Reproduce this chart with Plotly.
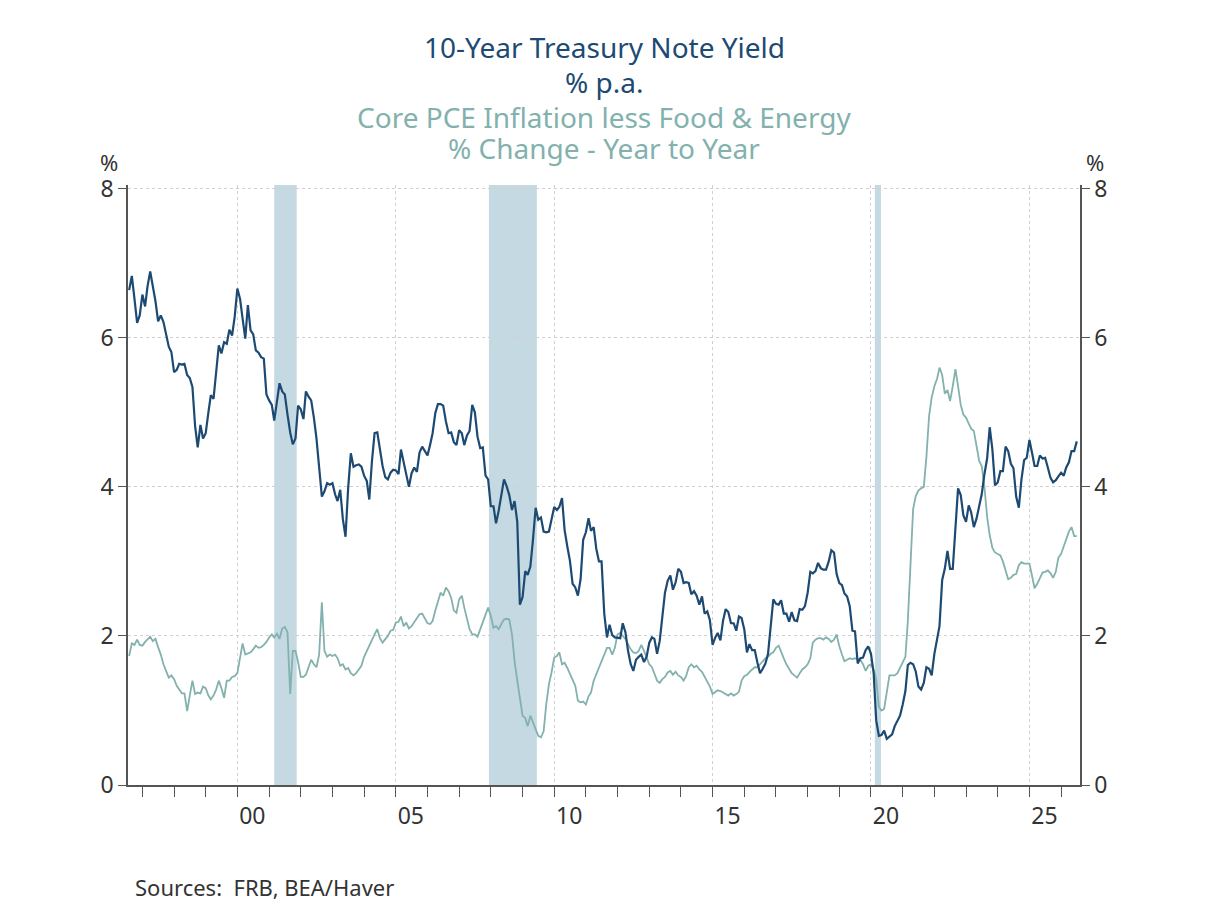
"""10-Year Treasury yield vs core PCE inflation, Plotly."""

import pandas as pd
import plotly.graph_objects as go

# monthly observations, first point = Aug 1996
start_month = "1996-08-01"

yield_10y = [
    # 1996 (Aug-Dec)
    6.64, 6.83, 6.53, 6.20, 6.30,
    # 1997
    6.58, 6.42, 6.69, 6.89, 6.71, 6.49, 6.22, 6.30, 6.21, 6.03, 5.88, 5.81,
    # 1998
    5.54, 5.57, 5.65, 5.64, 5.65, 5.50, 5.46, 5.34, 4.81, 4.53, 4.83, 4.65,
    # 1999
    4.72, 5.00, 5.23, 5.18, 5.54, 5.90, 5.79, 5.94, 5.92, 6.11, 6.03, 6.28,
    # 2000
    6.66, 6.52, 6.26, 5.99, 6.44, 6.10, 6.05, 5.83, 5.80, 5.74, 5.72, 5.24,
    # 2001
    5.16, 5.10, 4.89, 5.14, 5.39, 5.28, 5.24, 4.97, 4.73, 4.57, 4.65, 5.09,
    # 2002
    5.04, 4.91, 5.28, 5.21, 5.16, 4.93, 4.65, 4.26, 3.87, 3.94, 4.05, 4.03,
    # 2003
    4.05, 3.90, 3.81, 3.96, 3.57, 3.33, 3.98, 4.45, 4.27, 4.29, 4.30, 4.27,
    # 2004
    4.15, 4.08, 3.83, 4.35, 4.72, 4.73, 4.50, 4.28, 4.13, 4.10, 4.19, 4.23,
    # 2005
    4.22, 4.17, 4.50, 4.34, 4.14, 4.00, 4.18, 4.26, 4.20, 4.46, 4.54, 4.47,
    # 2006
    4.42, 4.57, 4.72, 4.99, 5.11, 5.11, 5.09, 4.88, 4.72, 4.73, 4.60, 4.56,
    # 2007
    4.76, 4.72, 4.56, 4.69, 4.75, 5.10, 5.00, 4.67, 4.52, 4.53, 4.15, 4.10,
    # 2008
    3.74, 3.74, 3.51, 3.68, 3.88, 4.10, 4.01, 3.89, 3.69, 3.81, 3.53, 2.42,
    # 2009
    2.52, 2.87, 2.82, 2.93, 3.29, 3.72, 3.56, 3.59, 3.40, 3.39, 3.40, 3.59,
    # 2010
    3.73, 3.69, 3.73, 3.85, 3.42, 3.20, 3.01, 2.70, 2.65, 2.54, 2.76, 3.29,
    # 2011
    3.39, 3.58, 3.41, 3.46, 3.17, 3.00, 3.00, 2.30, 1.98, 2.15, 2.01, 1.98,
    # 2012
    1.97, 1.97, 2.17, 2.05, 1.80, 1.62, 1.53, 1.68, 1.72, 1.75, 1.65, 1.72,
    # 2013
    1.91, 1.98, 1.96, 1.76, 1.93, 2.30, 2.58, 2.74, 2.81, 2.62, 2.72, 2.90,
    # 2014
    2.86, 2.71, 2.72, 2.71, 2.56, 2.60, 2.54, 2.42, 2.53, 2.30, 2.33, 2.21,
    # 2015
    1.88, 1.98, 2.04, 1.94, 2.20, 2.36, 2.32, 2.17, 2.17, 2.07, 2.26, 2.24,
    # 2016
    2.09, 1.78, 1.89, 1.81, 1.81, 1.64, 1.50, 1.56, 1.63, 1.76, 2.14, 2.49,
    # 2017
    2.43, 2.42, 2.48, 2.30, 2.30, 2.19, 2.32, 2.21, 2.20, 2.36, 2.35, 2.40,
    # 2018
    2.58, 2.86, 2.84, 2.87, 2.98, 2.91, 2.89, 2.89, 3.00, 3.15, 3.12, 2.83,
    # 2019
    2.71, 2.68, 2.57, 2.53, 2.40, 2.07, 2.06, 1.63, 1.70, 1.71, 1.81, 1.86,
    # 2020
    1.76, 1.50, 0.87, 0.66, 0.67, 0.73, 0.62, 0.65, 0.68, 0.79, 0.87, 0.93,
    # 2021
    1.08, 1.26, 1.61, 1.64, 1.62, 1.52, 1.32, 1.28, 1.37, 1.58, 1.56, 1.47,
    # 2022
    1.76, 1.93, 2.13, 2.75, 2.90, 3.14, 2.90, 2.90, 3.52, 3.98, 3.89, 3.62,
    # 2023
    3.53, 3.75, 3.66, 3.46, 3.57, 3.75, 3.90, 4.17, 4.38, 4.80, 4.50, 4.02,
    # 2024
    4.06, 4.21, 4.21, 4.54, 4.48, 4.31, 4.25, 3.87, 3.72, 4.10, 4.36, 4.39,
    # 2025
    4.63, 4.45, 4.28, 4.28, 4.42, 4.38, 4.39, 4.26, 4.12, 4.06, 4.09, 4.14,
    # 2026
    4.19, 4.15, 4.26, 4.33, 4.48, 4.48, 4.61,
]

core_pce = [
    # 1996 (Aug-Dec)
    1.73, 1.90, 1.88, 1.95, 1.88,
    # 1997
    1.87, 1.92, 1.95, 1.99, 1.93, 1.96, 1.85, 1.75, 1.62, 1.52, 1.44, 1.47,
    # 1998
    1.42, 1.33, 1.28, 1.23, 1.23, 0.99, 1.20, 1.40, 1.22, 1.24, 1.23, 1.32,
    # 1999
    1.30, 1.20, 1.15, 1.20, 1.28, 1.40, 1.30, 1.17, 1.40, 1.40, 1.45, 1.46,
    # 2000
    1.50, 1.70, 1.90, 1.75, 1.76, 1.78, 1.82, 1.87, 1.84, 1.85, 1.88, 1.92,
    # 2001
    1.98, 2.02, 1.98, 2.03, 1.96, 2.10, 2.12, 2.05, 1.22, 1.80, 1.80, 1.65,
    # 2002
    1.45, 1.45, 1.48, 1.58, 1.68, 1.62, 1.58, 1.75, 2.45, 1.80, 1.72, 1.75,
    # 2003
    1.73, 1.75, 1.70, 1.60, 1.62, 1.55, 1.57, 1.50, 1.47, 1.50, 1.55, 1.60,
    # 2004
    1.72, 1.80, 1.86, 1.96, 2.02, 2.09, 1.97, 1.91, 1.95, 2.00, 2.07, 2.08,
    # 2005
    2.18, 2.19, 2.26, 2.13, 2.18, 2.10, 2.13, 2.18, 2.24, 2.29, 2.30, 2.24,
    # 2006
    2.17, 2.16, 2.20, 2.34, 2.45, 2.58, 2.54, 2.65, 2.60, 2.51, 2.34, 2.31,
    # 2007
    2.49, 2.54, 2.38, 2.22, 2.09, 2.02, 2.02, 1.99, 2.09, 2.18, 2.29, 2.38,
    # 2008
    2.27, 2.11, 2.13, 2.09, 2.16, 2.22, 2.23, 2.22, 2.02, 1.66, 1.40, 1.15,
    # 2009
    0.93, 0.90, 0.79, 0.93, 0.84, 0.75, 0.66, 0.64, 0.72, 1.08, 1.35, 1.51,
    # 2010
    1.71, 1.73, 1.78, 1.62, 1.64, 1.57, 1.49, 1.40, 1.33, 1.13, 1.11, 1.12,
    # 2011
    1.08, 1.19, 1.24, 1.40, 1.49, 1.57, 1.66, 1.75, 1.84, 1.84, 1.75, 1.84,
    # 2012
    2.02, 2.04, 2.00, 1.96, 1.89, 1.82, 1.78, 1.77, 1.80, 1.88, 1.80, 1.70,
    # 2013
    1.62, 1.58, 1.48, 1.40, 1.37, 1.42, 1.45, 1.51, 1.53, 1.48, 1.52, 1.47,
    # 2014
    1.45, 1.40, 1.46, 1.58, 1.62, 1.58, 1.60, 1.55, 1.52, 1.45, 1.40, 1.32,
    # 2015
    1.22, 1.25, 1.27, 1.26, 1.24, 1.22, 1.20, 1.23, 1.20, 1.22, 1.25, 1.40,
    # 2016
    1.46, 1.48, 1.52, 1.55, 1.58, 1.58, 1.62, 1.66, 1.70, 1.72, 1.76, 1.78,
    # 2017
    1.84, 1.87, 1.78, 1.70, 1.62, 1.56, 1.50, 1.47, 1.44, 1.50, 1.55, 1.58,
    # 2018
    1.62, 1.70, 1.91, 1.95, 1.97, 1.97, 1.95, 1.98, 1.96, 1.92, 1.95, 2.02,
    # 2019
    1.86, 1.75, 1.66, 1.68, 1.70, 1.69, 1.70, 1.69, 1.68, 1.62, 1.53, 1.60,
    # 2020
    1.62, 1.55, 1.42, 1.05, 1.00, 1.02, 1.25, 1.47, 1.47, 1.47, 1.50, 1.58,
    # 2021
    1.66, 1.72, 2.20, 3.05, 3.70, 3.88, 3.95, 3.98, 4.00, 4.40, 4.95, 5.20,
    # 2022
    5.35, 5.45, 5.60, 5.50, 5.25, 5.30, 5.15, 5.35, 5.58, 5.35, 5.10, 4.97,
    # 2023
    4.93, 4.85, 4.78, 4.75, 4.55, 4.35, 4.28, 4.00, 3.60, 3.35, 3.18, 3.12,
    # 2024
    3.10, 3.08, 3.00, 2.88, 2.76, 2.78, 2.82, 2.83, 2.95, 2.99, 2.97, 2.97,
    # 2025
    2.97, 2.80, 2.64, 2.70, 2.78, 2.85, 2.86, 2.88, 2.84, 2.78, 2.86, 3.05,
    # 2026
    3.10, 3.20, 3.28, 3.40, 3.46, 3.34, 3.34,
]

# NBER recessions (start, end)
recessions = [
    ("2001-03-01", "2001-11-15"),
    ("2007-12-10", "2009-06-15"),
    ("2020-02-15", "2020-04-25"),
]

label_years = ["2000", "2005", "2010", "2015", "2020", "2025"]
label_text = ["00", "05", "10", "15", "20", "25"]
y_ticks = [0, 2, 4, 6, 8]

DARK = "#1d4a73"
LIGHT = "#82b1ae"
SHADE = "#c5d9e3"
AXIS = "#555555"
TXT = "#333333"
FONT = "Noto Sans"

# plot area in page pixels (page has an 8px body margin)
PLOT_TOP = 185
PLOT_BOTTOM = 785
PLOT_H = PLOT_BOTTOM - PLOT_TOP

dates = pd.date_range(start_month, periods=len(yield_10y), freq="MS")

fig = go.Figure()

fig.add_trace(go.Scatter(
    x=dates, y=core_pce, mode="lines",
    line=dict(color=LIGHT, width=1.8), name="Core PCE",
))
fig.add_trace(go.Scatter(
    x=dates, y=yield_10y, mode="lines",
    line=dict(color=DARK, width=2.2), name="10Y",
))
# invisible trace so the right axis is drawn
fig.add_trace(go.Scatter(
    x=dates[:1], y=[None], yaxis="y2", showlegend=False, hoverinfo="skip",
))

for start, end in recessions:
    fig.add_vrect(x0=start, x1=end, fillcolor=SHADE, opacity=1,
                  line_width=0, layer="below")

yaxis_common = dict(
    range=[0, 8.05],
    tickvals=y_ticks,
    ticks="outside",
    ticklen=8,
    tickcolor=AXIS,
    showline=True,
    linecolor=AXIS,
    linewidth=1.5,
    zeroline=False,
    tickfont=dict(size=23, color=TXT),
)

fig.update_layout(
    width=1208,
    height=906,
    paper_bgcolor="white",
    plot_bgcolor="white",
    showlegend=False,
    margin=dict(l=120, r=136, t=PLOT_TOP - 8, b=906 - (PLOT_BOTTOM - 8)),
    font=dict(family=FONT, size=20, color=TXT),
    xaxis=dict(
        type="date",
        range=["1996-07-19", "2026-08-07"],
        tickvals=label_years,
        ticktext=label_text,
        ticks="outside",
        ticklen=10,
        tickcolor=AXIS,
        ticklabelshift=15,
        ticklabelstandoff=0,
        showgrid=True,
        gridcolor="#d0d0d0",
        griddash="dot",
        gridwidth=1,
        showline=True,
        linecolor=AXIS,
        linewidth=1.5,
        zeroline=False,
        minor=dict(dtick="M12", tick0="1997-01-01", ticks="outside",
                   ticklen=10, tickcolor=AXIS, showgrid=False),
        tickfont=dict(size=23, color=TXT),
    ),
    yaxis=dict(**yaxis_common, showgrid=True, gridcolor="#d0d0d0", griddash="dot"),
    yaxis2=dict(**yaxis_common, overlaying="y", side="right", showgrid=False),
)

titles = [
    ("10-Year Treasury Note Yield", DARK, 47),
    ("% p.a.", DARK, 82),
    ("Core PCE Inflation less Food & Energy", LIGHT, 117),
    ("% Change - Year to Year", LIGHT, 148),
]
for text, color, ypx in titles:
    fig.add_annotation(
        text=text, xref="paper", yref="paper",
        x=0.5, y=1 + (PLOT_TOP - ypx) / PLOT_H,
        xanchor="center", yanchor="middle", showarrow=False,
        font=dict(family=FONT, size=28, color=color),
    )

fig.add_annotation(text="%", xref="paper", yref="paper", x=-0.008,
                   y=1 + (PLOT_TOP - 162) / PLOT_H,
                   xanchor="right", yanchor="middle", showarrow=False,
                   font=dict(size=22, color=TXT))
fig.add_annotation(text="%", xref="paper", yref="paper", x=1.004,
                   y=1 + (PLOT_TOP - 162) / PLOT_H,
                   xanchor="left", yanchor="middle", showarrow=False,
                   font=dict(size=22, color=TXT))
fig.add_annotation(text="Sources:  FRB, BEA/Haver", xref="paper", yref="paper",
                   x=5 / 952, y=-(887 - PLOT_BOTTOM) / PLOT_H,
                   xanchor="left", yanchor="middle",
                   showarrow=False, font=dict(size=22, color=TXT))

fig.write_html("out.html")
